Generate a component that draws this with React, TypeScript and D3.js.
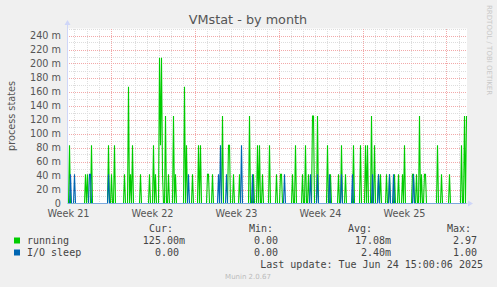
import React, { useEffect, useRef } from 'react';
import * as d3 from 'd3';

// 2h steps (index) -> value in milli "process states"
const runningSpikes: [number, number][] = [
  [2, 83.3], [18, 41.7], [20, 41.7], [24, 83.3], [41, 83.3], [44, 41.7], [47, 83.3],
  [57, 41.7], [61, 166.7], [63, 41.7], [65, 83.3], [73, 41.7], [82, 41.7], [86, 83.3],
  [88, 41.7], [92, 208.3], [93, 83.3], [94, 208.3], [95, 41.7], [98, 125], [101, 41.7],
  [106, 125], [108, 41.7], [117, 166.7], [119, 83.3], [125, 41.7], [131, 83.3], [133, 83.3],
  [140, 41.7], [141, 41.7], [145, 41.7], [155, 125], [161, 83.3], [162, 83.3], [166, 41.7],
  [172, 41.7], [182, 125], [186, 41.7], [190, 83.3], [192, 83.3], [195, 41.7], [202, 83.3],
  [209, 41.7], [213, 41.7], [214, 41.7], [225, 41.7], [228, 83.3], [235, 41.7], [238, 83.3],
  [241, 41.7], [245, 125], [246, 125], [250, 125], [260, 83.3], [263, 41.7], [271, 41.7],
  [274, 83.3], [278, 41.7], [286, 83.3], [293, 83.3], [298, 83.3], [300, 83.3], [304, 125],
  [307, 83.3], [311, 41.7], [313, 41.7], [319, 41.7], [322, 41.7], [327, 41.7], [331, 41.7],
  [335, 41.7], [337, 83.3], [345, 41.7], [346, 41.7], [349, 41.7], [352, 125], [354, 41.7],
  [357, 41.7], [358, 41.7], [370, 83.3], [374, 41.7], [382, 41.7], [394, 83.3], [397, 125],
  [399, 125],
];

const ioSleepSpikes: [number, number][] = [
  [3, 41.7], [7, 41.7], [22, 41.7], [23, 41.7], [41, 41.7], [121, 41.7], [151, 41.7],
  [153, 83.3], [159, 41.7], [174, 83.3], [185, 41.7], [217, 41.7], [243, 41.7], [250, 41.7],
  [262, 41.7], [274, 41.7], [285, 41.7], [305, 41.7], [311, 41.7], [322, 41.7], [326, 41.7],
  [346, 41.7],
];

const yTicks = [0, 20, 40, 60, 80, 100, 120, 140, 160, 180, 200, 220, 240];
const weekLabels = ['Week 21', 'Week 22', 'Week 23', 'Week 24', 'Week 25'];

const legendRows = [
  { name: 'running', color: '#00CC00', cur: '125.00m', min: '0.00', avg: '17.08m', max: '2.97' },
  { name: 'I/O sleep', color: '#0066B3', cur: '0.00', min: '0.00', avg: '2.40m', max: '1.00' },
];

const STEPS = 400;
const HOURS = 800;

const App: React.FC = () => {
  const ref = useRef<SVGSVGElement>(null);

  useEffect(() => {
    const svg = d3.select(ref.current);
    svg.selectAll('*').remove();

    const W = 497;
    const H = 287;
    const left = 67;
    const right = 467;
    const top = 28.5;
    const bottom = 203.5;

    const x = d3.scaleLinear().domain([0, HOURS]).range([left, right]);
    const y = d3.scaleLinear().domain([0, 250]).range([bottom, top]);

    svg.append('rect').attr('width', W).attr('height', H).attr('fill', '#F0F0F0');
    svg
      .append('rect')
      .attr('x', left)
      .attr('y', top)
      .attr('width', right - left)
      .attr('height', bottom - top)
      .attr('fill', '#FFFFFF');

    const grid = svg.append('g').attr('shape-rendering', 'crispEdges');

    // minor grid
    d3.range(10, 251, 20).forEach((v) => {
      grid
        .append('line')
        .attr('x1', left)
        .attr('x2', right)
        .attr('y1', Math.round(y(v)) + 0.5)
        .attr('y2', Math.round(y(v)) + 0.5)
        .attr('stroke', '#DDDDDD')
        .attr('stroke-dasharray', '1,1');
    });
    d3.range(15, HOURS, 24).forEach((h) => {
      if ((h - 87) % 168 === 0) return;
      grid
        .append('line')
        .attr('x1', Math.round(x(h)) + 0.5)
        .attr('x2', Math.round(x(h)) + 0.5)
        .attr('y1', top)
        .attr('y2', bottom)
        .attr('stroke', '#DDDDDD')
        .attr('stroke-dasharray', '1,1');
    });
    // major grid
    yTicks.slice(1).forEach((v) => {
      grid
        .append('line')
        .attr('x1', left)
        .attr('x2', right)
        .attr('y1', Math.round(y(v)) + 0.5)
        .attr('y2', Math.round(y(v)) + 0.5)
        .attr('stroke', '#F2A9A9')
        .attr('stroke-dasharray', '1,1');
    });
    d3.range(87, HOURS, 168).forEach((h) => {
      grid
        .append('line')
        .attr('x1', Math.round(x(h)) + 0.5)
        .attr('x2', Math.round(x(h)) + 0.5)
        .attr('y1', top)
        .attr('y2', bottom)
        .attr('stroke', '#F2A9A9')
        .attr('stroke-dasharray', '1,1');
    });

    const toSeries = (spikes: [number, number][]) => {
      const m = new Map(spikes);
      return d3.range(STEPS).map((i) => ({ h: i * 2, v: m.get(i) ?? 0 }));
    };

    const line = d3
      .line<{ h: number; v: number }>()
      .x((d) => x(d.h) + 0.5)
      .y((d) => y(d.v));

    svg
      .append('path')
      .datum(toSeries(runningSpikes))
      .attr('d', line)
      .attr('fill', 'none')
      .attr('stroke', '#00CC00')
      .attr('stroke-width', 1.1);
    svg
      .append('path')
      .datum(toSeries(ioSleepSpikes))
      .attr('d', line)
      .attr('fill', 'none')
      .attr('stroke', '#0066B3')
      .attr('stroke-width', 1.1);

    // axes
    svg
      .append('line')
      .attr('x1', left + 0.5)
      .attr('x2', left + 0.5)
      .attr('y1', bottom)
      .attr('y2', 24)
      .attr('stroke', '#CFD6F8');
    svg
      .append('path')
      .attr('d', `M${left - 2.5},25 L${left + 3.5},25 L${left + 0.5},20 Z`)
      .attr('fill', '#CFD6F8');
    svg
      .append('line')
      .attr('x1', left)
      .attr('x2', 470)
      .attr('y1', bottom)
      .attr('y2', bottom)
      .attr('stroke', '#CFD6F8')
      .attr('stroke-opacity', 0.6);
    svg
      .append('path')
      .attr('d', `M468,${bottom - 3} L468,${bottom + 3} L473,${bottom} Z`)
      .attr('fill', '#CFD6F8');

    const sans = 'DejaVu Sans, sans-serif';
    const mono = 'DejaVu Sans Mono, monospace';

    // y tick labels
    svg
      .append('g')
      .selectAll('text')
      .data(yTicks)
      .join('text')
      .attr('x', 61)
      .attr('y', (d) => y(d) + 3.3)
      .attr('text-anchor', 'end')
      .attr('font-family', sans)
      .attr('font-size', 9.7)
      .attr('fill', '#555')
      .text((d) => (d === 0 ? '0' : `${d} m`));

    // week labels
    svg
      .append('g')
      .selectAll('text')
      .data(weekLabels)
      .join('text')
      .attr('x', (_, i) => x(3 + i * 168))
      .attr('y', 216.5)
      .attr('text-anchor', 'middle')
      .attr('font-family', sans)
      .attr('font-size', 9.7)
      .attr('fill', '#555')
      .text((d) => d);

    // title
    svg
      .append('text')
      .attr('x', 248)
      .attr('y', 24)
      .attr('text-anchor', 'middle')
      .attr('font-family', sans)
      .attr('font-size', 12.8)
      .attr('fill', '#555')
      .text('VMstat - by month');

    // y axis label
    svg
      .append('text')
      .attr('transform', `translate(14.5,${(top + bottom) / 2}) rotate(-90)`)
      .attr('text-anchor', 'middle')
      .attr('font-family', sans)
      .attr('font-size', 9.7)
      .attr('fill', '#555')
      .text('process states');

    // watermark
    svg
      .append('text')
      .attr('transform', 'translate(486.5,5) rotate(90)')
      .attr('font-family', sans)
      .attr('font-size', 7)
      .attr('fill', '#C8C8C8')
      .text('RRDTOOL / TOBI OETIKER');

    // legend
    const lg = svg.append('g').attr('font-family', mono).attr('font-size', 10).attr('fill', '#444');
    [
      ['Cur:', 149],
      ['Min:', 249],
      ['Avg:', 348],
      ['Max:', 447],
    ].forEach(([t, px]) => {
      lg.append('text').attr('x', px).attr('y', 231.5).text(t as string);
    });
    legendRows.forEach((r, i) => {
      const by = 243.5 + i * 12;
      lg.append('rect')
        .attr('x', 14)
        .attr('y', by - 6)
        .attr('width', 6)
        .attr('height', 6)
        .attr('fill', r.color);
      lg.append('text').attr('x', 27).attr('y', by).text(r.name);
      lg.append('text').attr('x', 185).attr('y', by).attr('text-anchor', 'end').text(r.cur + (r.cur.endsWith('m') ? '' : '\u00a0'));
      lg.append('text').attr('x', 284).attr('y', by).attr('text-anchor', 'end').text(r.min + '\u00a0');
      lg.append('text').attr('x', 391).attr('y', by).attr('text-anchor', 'end').text(r.avg);
      lg.append('text').attr('x', 483).attr('y', by).attr('text-anchor', 'end').text(r.max + '\u00a0');
    });
    lg.append('text').attr('x', 483).attr('y', 267.5).attr('text-anchor', 'end').text('Last update: Tue Jun 24 15:00:06 2025');

    svg
      .append('text')
      .attr('x', 248)
      .attr('y', 279)
      .attr('text-anchor', 'middle')
      .attr('font-family', sans)
      .attr('font-size', 7)
      .attr('fill', '#BBBBBB')
      .text('Munin 2.0.67');
  }, []);

  return (
    <svg
      ref={ref}
      width={497}
      height={287}
      style={{ position: 'absolute', left: 0, top: 0, display: 'block' }}
    />
  );
};

export default App;
